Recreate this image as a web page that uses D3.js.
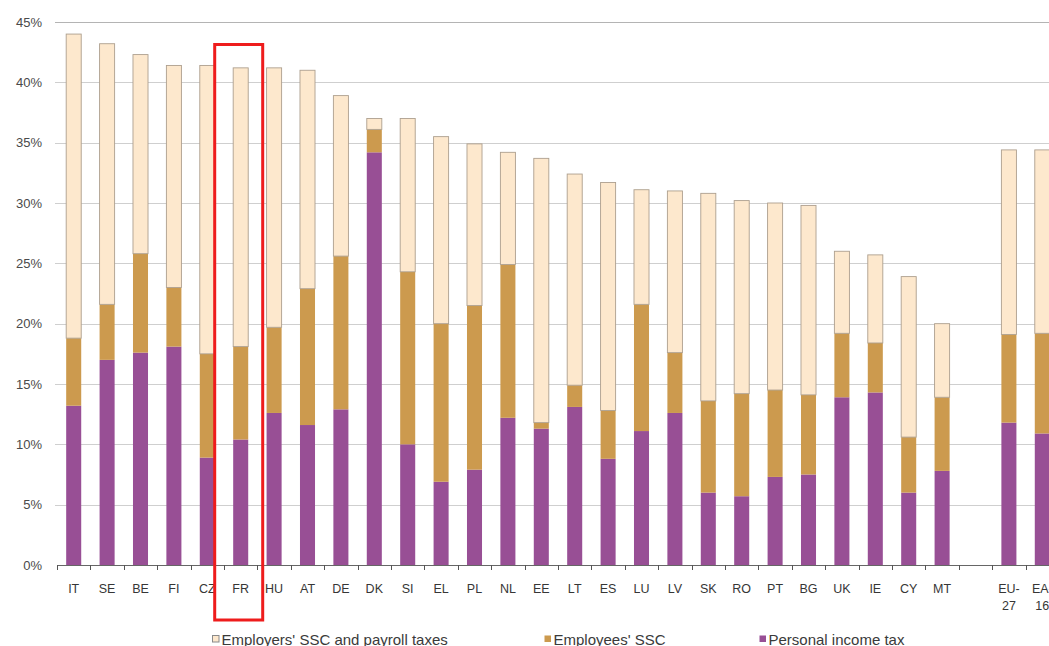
<!DOCTYPE html>
<html>
<head>
<meta charset="utf-8">
<script src="https://cdn.jsdelivr.net/npm/d3@7/dist/d3.min.js"></script>
<style>
  html, body { margin: 0; padding: 0; background: #fff; overflow: hidden; }
  svg { display: block; font-family: "Liberation Sans", Arial, sans-serif; }
</style>
</head>
<body>
<svg id="chart" width="1049" height="646"></svg>
<script>
// Implicit tax rate on labour, broken down by type of levy (% of labour cost)
// An empty category leaves a gap between the countries and the aggregates.
const categories = ["IT","SE","BE","FI","CZ","FR","HU","AT","DE","DK","SI","EL","PL","NL","EE","LT","ES","LU","LV","SK","RO","PT","BG","UK","IE","CY","MT","","EU-27","EA-16"];

const personalIncomeTax = [13.2,17.0,17.6,18.1,8.9,10.4,12.6,11.6,12.9,34.2,10.0,6.9,7.9,12.2,11.3,13.1,8.8,11.1,12.6,6.0,5.7,7.3,7.5,13.9,14.3,6.0,7.8,null,11.8,10.9];
const employeesSSC      = [5.6,4.6,8.2,4.9,8.6,7.7,7.1,11.3,12.7,1.9,14.3,13.1,13.6,12.7,0.5,1.8,4.0,10.5,5.0,7.6,8.5,7.2,6.6,5.3,4.1,4.6,6.1,null,7.3,8.3];
const employersSSC      = [25.2,21.6,16.5,18.4,23.9,23.1,21.5,18.1,13.3,0.9,12.7,15.5,13.4,9.3,21.9,17.5,18.9,9.5,13.4,17.2,16.0,15.5,15.7,6.8,7.3,13.3,6.1,null,15.3,15.2];

const seriesNames = ["Personal income tax", "Employees' SSC", "Employers' SSC and payroll taxes"];
const seriesKeys = ["pit", "ee", "er"];
const seriesColors = ["#984f95", "#cc9a4e", "#fde8cd"];
const yTicks = [0,5,10,15,20,25,30,35,40,45];
const highlighted = "FR";

(function draw() {
  const rows = categories.map((c, i) => ({
    cat: c,
    pit: personalIncomeTax[i],
    ee: employeesSSC[i],
    er: employersSSC[i]
  }));

  const svg = d3.select("#chart");
  const plotLeft = 57, plotBottom = 565, plotTop = 22;
  const step = 33.4;
  const plotRight = plotLeft + step * categories.length;
  const key = c => c === "" ? "__gap" : c;

  const x = d3.scaleBand()
    .domain(categories.map(key))
    .range([plotLeft, plotRight])
    .paddingInner(0.55)
    .paddingOuter(0.275);

  const y = d3.scaleLinear().domain([0, 45]).range([plotBottom, plotTop]);

  // horizontal gridlines
  svg.append("g").selectAll("line")
    .data(yTicks.filter(t => t > 0))
    .join("line")
    .attr("x1", plotLeft - 2).attr("x2", 1049)
    .attr("y1", d => Math.round(y(d)) + 0.5).attr("y2", d => Math.round(y(d)) + 0.5)
    .attr("stroke", d => d === 45 ? "#b4b4b4" : "#cfcfcf")
    .attr("stroke-width", 1);

  // y tick labels
  svg.append("g").selectAll("text")
    .data(yTicks)
    .join("text")
    .attr("x", 42)
    .attr("y", d => y(d) + 4.5)
    .attr("text-anchor", "end")
    .attr("font-size", 13)
    .attr("fill", "#4a4a4a")
    .text(d => d + "%");

  // stacked bars
  const stacked = d3.stack().keys(seriesKeys)(rows.filter(r => r.cat !== ""));

  const barGroup = svg.append("g");
  stacked.forEach((layer, li) => {
    barGroup.append("g").selectAll("rect")
      .data(layer)
      .join("rect")
      .attr("x", d => x(key(d.data.cat)))
      .attr("width", x.bandwidth())
      .attr("y", d => y(d[1]))
      .attr("height", d => Math.max(0, y(d[0]) - y(d[1])))
      .attr("fill", seriesColors[li])
      .attr("stroke", li === 2 ? "#ad9f8e" : "none")
      .attr("stroke-width", li === 2 ? 0.9 : 0);
  });

  // x axis line and ticks at slot boundaries
  const boundaries = categories.map(c => x(key(c)) - (x.step() - x.bandwidth()) / 2);
  boundaries.push(boundaries[boundaries.length - 1] + x.step());
  svg.append("line")
    .attr("x1", plotLeft).attr("x2", 1049)
    .attr("y1", plotBottom + 0.5).attr("y2", plotBottom + 0.5)
    .attr("stroke", "#666").attr("stroke-width", 1.2);
  svg.append("g").selectAll("line")
    .data(boundaries)
    .join("line")
    .attr("x1", d => Math.round(d) + 0.5).attr("x2", d => Math.round(d) + 0.5)
    .attr("y1", plotBottom).attr("y2", plotBottom + 5)
    .attr("stroke", "#555").attr("stroke-width", 1);

  // category labels (aggregates wrap after the hyphen)
  const labels = svg.append("g").selectAll("text")
    .data(categories.filter(c => c !== ""))
    .join("text")
    .attr("y", 593)
    .attr("text-anchor", "middle")
    .attr("font-size", 12.5)
    .attr("fill", "#363636");
  labels.each(function(d) {
    const parts = d.includes("-") ? [d.split("-")[0] + "-", d.split("-")[1]] : [d];
    d3.select(this).selectAll("tspan")
      .data(parts)
      .join("tspan")
      .attr("x", x(key(d)) + x.bandwidth() / 2)
      .attr("dy", (p, i) => i === 0 ? 0 : 17)
      .text(p => p);
  });

  // legend
  const legendItems = [
    { name: seriesNames[2], color: seriesColors[2], stroke: "#8a8a8a", x: 212 },
    { name: seriesNames[1], color: seriesColors[1], stroke: "none", x: 544 },
    { name: seriesNames[0], color: seriesColors[0], stroke: "none", x: 759 }
  ];
  const lg = svg.append("g").selectAll("g").data(legendItems).join("g")
    .attr("transform", d => `translate(${d.x},639)`);
  lg.append("rect")
    .attr("x", 0.5).attr("y", -3.5).attr("width", 6.5).attr("height", 6.5)
    .attr("fill", d => d.color)
    .attr("stroke", d => d.stroke).attr("stroke-width", 1);
  lg.append("text")
    .attr("x", 9.5).attr("y", 5.5)
    .attr("font-size", 15)
    .attr("fill", "#3a3a3a")
    .text(d => d.name);

  // highlight frame around France
  const cx = x(highlighted) + x.bandwidth() / 2 - 2;
  const frameTop = y(45) + 22.5;
  svg.append("rect")
    .attr("x", cx - 24).attr("y", frameTop)
    .attr("width", 48).attr("height", 620 - frameTop)
    .attr("fill", "none")
    .attr("stroke", "#ee1c1c")
    .attr("stroke-width", 3);
})();
</script>
</body>
</html>
